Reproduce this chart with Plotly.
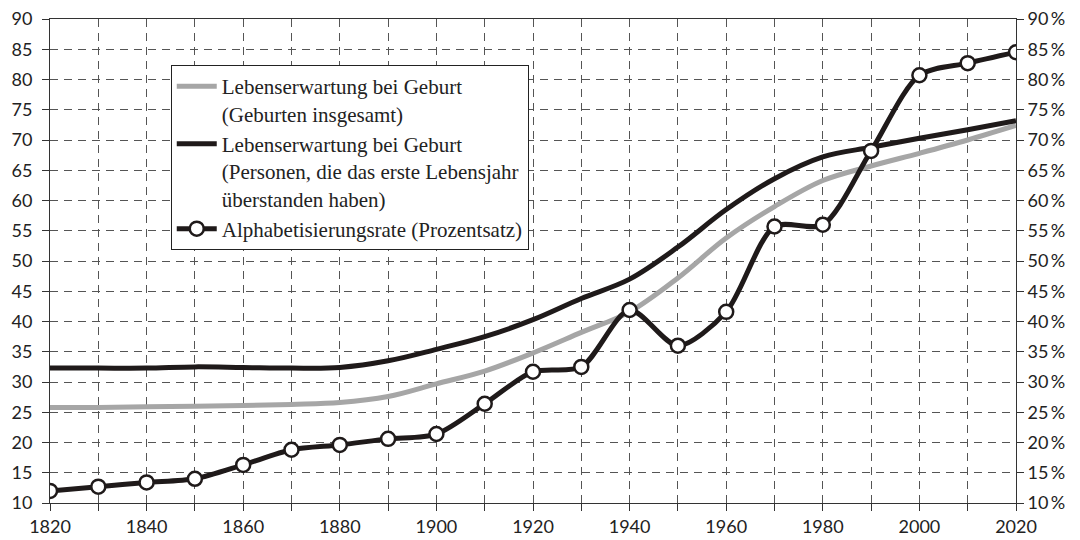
import plotly.graph_objects as go

years = list(range(1820, 2021, 10))
life_total = [25.8, 25.8, 25.9, 26.0, 26.1, 26.3, 26.6, 27.6, 29.7, 31.8, 34.8, 38.2, 41.6,
              47.2, 53.8, 59.0, 63.3, 65.7, 67.8, 70.0, 72.4]
life_survivors = [32.3, 32.3, 32.3, 32.5, 32.4, 32.3, 32.4, 33.5, 35.4, 37.5, 40.3, 43.8, 47.0,
                  52.3, 58.5, 63.6, 67.2, 68.8, 70.3, 71.7, 73.2]
literacy = [12.0, 12.7, 13.4, 14.0, 16.3, 18.8, 19.6, 20.6, 21.4, 26.4, 31.7, 32.5, 41.9,
            36.0, 41.6, 55.7, 56.0, 68.2, 80.7, 82.7, 84.5]

names = [
    "Lebenserwartung bei Geburt<br>(Geburten insgesamt)",
    "Lebenserwartung bei Geburt<br>(Personen, die das erste Lebensjahr<br>überstanden haben)",
    "Alphabetisierungsrate (Prozentsatz)",
]

fig = go.Figure()
fig.add_trace(go.Scatter(x=years, y=life_total, name=names[0], mode="lines",
                         line=dict(color="#a6a6a6", width=5, shape="spline", smoothing=1)))
fig.add_trace(go.Scatter(x=years, y=life_survivors, name=names[1], mode="lines",
                         line=dict(color="#1f1a1a", width=5, shape="spline", smoothing=1)))
fig.add_trace(go.Scatter(x=years, y=literacy, name=names[2], mode="lines+markers", yaxis="y2",
                         line=dict(color="#1f1a1a", width=5, shape="spline", smoothing=0.8),
                         marker=dict(size=14, color="white", line=dict(color="#1f1a1a", width=2.5))))

tickfont = dict(family="Lato", size=18, color="#222")
grid = dict(showgrid=True, gridcolor="#555", gridwidth=1, griddash="8px,6px")

fig.update_layout(
    width=1080, height=540,
    margin=dict(l=50, r=64, t=19, b=37),
    paper_bgcolor="white", plot_bgcolor="white",
    showlegend=True,
    legend=dict(x=0.125, y=0.905, xanchor="left", yanchor="top",
                bordercolor="#222", borderwidth=1, bgcolor="white",
                font=dict(family="Liberation Serif", size=21, color="#222"),
                valign="top", tracegroupgap=0, itemwidth=40),
    xaxis=dict(range=[1820, 2020], tickmode="array", tickvals=list(range(1820, 2021, 20)),
               ticks="outside", ticklen=7, tickcolor="#333", tickfont=tickfont,
               showline=True, linecolor="#333", linewidth=1, mirror=True, automargin=False,
               minor=dict(dtick=10, tick0=1820, ticks="outside", ticklen=7, tickcolor="#333",
                          showgrid=True, gridcolor="#555", gridwidth=1, griddash="8px,6px"),
               zeroline=False, **grid),
    yaxis=dict(range=[10, 90], dtick=5, tick0=10, ticks="outside", ticklen=7, tickcolor="#333",
               tickfont=tickfont, showline=True, linecolor="#333", linewidth=1,
               ticklabelstandoff=6,
               zeroline=False, automargin=False, **grid),
    yaxis2=dict(range=[10, 90], dtick=5, tick0=10, overlaying="y", side="right",
                ticks="outside", ticklen=7, tickcolor="#333", ticksuffix="\u2009%",
                tickfont=tickfont, showline=True, linecolor="#333", linewidth=1,
                showgrid=False, zeroline=False, automargin=False),
)

fig.write_html("out.html", config={"displayModeBar": False},
               post_script="document.body.style.margin='0';")
